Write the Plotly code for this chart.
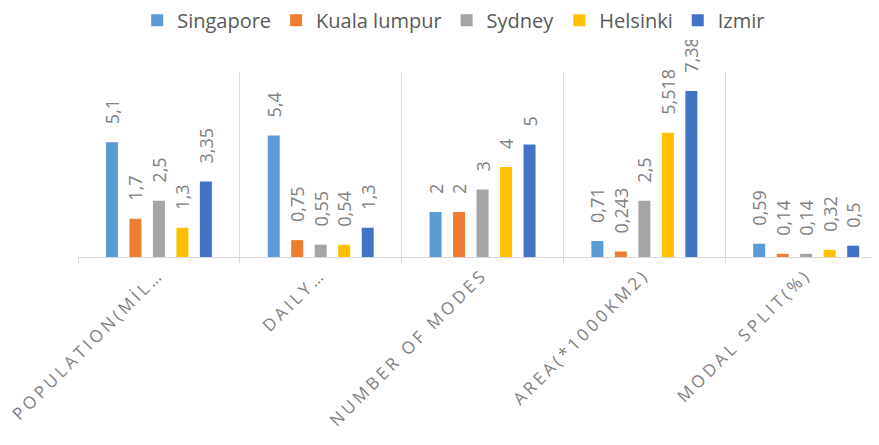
import plotly.graph_objects as go

categories = ["POPULATION(MİL…", "DAILY…", "NUMBER OF MODES", "AREA(*1000KM2)", "MODAL SPLIT(%)"]
series_names = ["Singapore", "Kuala lumpur", "Sydney", "Helsinki", "Izmir"]
singapore = [5.1, 5.4, 2, 0.71, 0.59]
kuala_lumpur = [1.7, 0.75, 2, 0.243, 0.14]
sydney = [2.5, 0.55, 3, 2.5, 0.14]
helsinki = [1.3, 0.54, 4, 5.518, 0.32]
izmir = [3.35, 1.3, 5, 7.38, 0.5]
series_values = [singapore, kuala_lumpur, sydney, helsinki, izmir]
colors = ["#5B9BD5", "#ED7D31", "#A5A5A5", "#FFC000", "#4472C4"]

LABEL_PAD = 0.67  # visual gap between bar top and its label (axis units)


def fmt(v):
    return f"{v:g}".replace(".", ",")


fig = go.Figure()
for i, (name, vals, col) in enumerate(zip(series_names, series_values, colors)):
    fig.add_trace(go.Bar(
        x=categories, y=vals, name=name, offsetgroup=str(i),
        marker=dict(color=col, line=dict(width=0)),
    ))
for i, (name, vals) in enumerate(zip(series_names, series_values)):
    fig.add_trace(go.Bar(
        x=categories, y=[LABEL_PAD] * len(vals), base=vals, offsetgroup=str(i),
        marker=dict(color="rgba(0,0,0,0)", line=dict(width=0)),
        text=[fmt(v) for v in vals], textposition="outside", textangle=-90,
        constraintext="none", cliponaxis=False,
        textfont=dict(family="Open Sans", size=18, color="#808080"),
        showlegend=False, hoverinfo="skip",
    ))

# page body has an 8px default margin, so the figure is drawn 8px smaller
fig.update_layout(
    width=871, height=437,
    margin=dict(l=70, r=0, t=64, b=188, autoexpand=False),
    barmode="group", bargap=0.274, bargroupgap=0.49,
    plot_bgcolor="white", paper_bgcolor="white",
    font=dict(family="Open Sans", color="#595959"),
    legend=dict(orientation="h", x=0.469, xanchor="center", y=1.28, yanchor="middle",
                font=dict(family="Open Sans", size=20, color="#595959"),
                itemclick=False),
    xaxis=dict(
        range=[-0.5, 4.45], showline=True, linecolor="#D9D9D9", linewidth=1,
        tickson="boundaries", ticks="outside", ticklen=5, tickcolor="#D9D9D9",
        showgrid=True, gridcolor="#D9D9D9", gridwidth=1, automargin=False,
        tickangle=-45, tickfont=dict(family="Open Sans", size=17, color="#808080"),
    ),
    yaxis=dict(range=[0, 8.22], visible=False, showgrid=False, zeroline=False,
               automargin=False),
)

post = """
var gd = document.getElementById('{plot_id}');
function ls(){ gd.querySelectorAll('.xtick text').forEach(function(t){ t.style.letterSpacing='3.5px'; }); }
ls(); gd.on('plotly_afterplot', ls);
"""
fig.write_html("out.html", post_script=post)
